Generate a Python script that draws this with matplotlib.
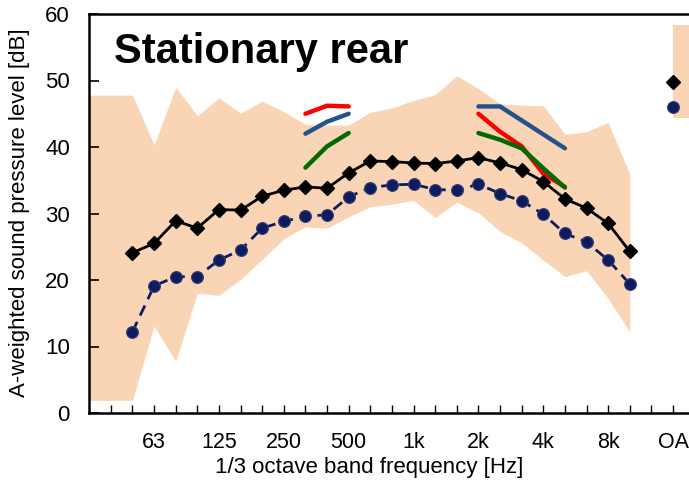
import numpy as np
import matplotlib
matplotlib.use("Agg")
import matplotlib.pyplot as plt

plt.rcParams['font.family'] = ['Liberation Sans', 'DejaVu Sans']

# 1/3 octave band positions (index 0 = 31.5 Hz ... 25 = 10 kHz, 27 = OA)
bands = ['31.5', '40', '50', '63', '80', '100', '125', '160', '200', '250',
         '315', '400', '500', '630', '800', '1k', '1.25k', '1.6k', '2k', '2.5k',
         '3.15k', '4k', '5k', '6.3k', '8k', '10k']
tick_labels = {3: '63', 6: '125', 9: '250', 12: '500', 15: '1k', 18: '2k',
               21: '4k', 24: '8k', 27: 'OA'}

# series (50 Hz .. 10 kHz)
black_vals = [24.1, 25.5, 28.9, 27.8, 30.6, 30.5, 32.6, 33.5, 34.0, 33.8, 36.1, 37.9,
              37.8, 37.6, 37.5, 37.9, 38.4, 37.6, 36.6, 34.8, 32.2, 30.8, 28.5, 24.3]
navy_vals = [12.2, 19.1, 20.5, 20.5, 23.0, 24.5, 27.8, 28.8, 29.6, 29.8, 32.5, 33.9,
             34.3, 34.4, 33.6, 33.5, 34.4, 33.0, 31.9, 29.9, 27.0, 25.7, 23.0, 19.4]

# range band (31.5 Hz .. 10 kHz)
band_upper = [47.8, 47.8, 47.8, 40.3, 49.0, 44.7, 47.4, 45.1, 46.9, 45.3, 43.4, 43.3,
              43.3, 45.2, 45.9, 47.0, 47.9, 50.7, 48.8, 46.5, 46.3, 46.2, 41.9, 42.3,
              43.7, 35.9]
band_lower = [1.9, 1.9, 1.9, 13.1, 7.8, 18.0, 17.7, 20.1, 23.1, 26.2, 28.0, 27.8,
              29.5, 31.0, 31.4, 32.0, 29.4, 31.7, 30.1, 27.3, 25.6, 23.0, 20.5, 21.4,
              17.2, 12.2]

# overall (OA)
oa_black = 49.8
oa_navy = 46.0
oa_band = (44.4, 58.3)

# reference curves: 315-500 Hz and 2k-5k Hz
ref_low_idx = [10, 11, 12]
ref_low_red = [45.0, 46.2, 46.1]
ref_low_blue = [42.0, 43.8, 45.0]
ref_low_green = [36.9, 40.1, 42.1]
ref_high_idx = [18, 19, 20, 21, 22]
ref_high_red = [45.0, 42.3, 40.1, 36.0, 34.0]
ref_high_blue = [46.1, 46.1, 44.0, 41.9, 39.8]
ref_high_green = [42.1, 41.1, 39.8, 36.8, 33.9]

band_color = '#FAD5B5'
navy = '#0B1D5E'

fig = plt.figure(figsize=(6.89, 4.84), dpi=100)
ax = fig.add_axes([89.2 / 689, 1 - 413 / 484, 1 - 89.2 / 689 + 0.001, (413 - 14) / 484])

x_band = np.arange(len(bands))
ax.fill_between(x_band, band_lower, band_upper, color=band_color, linewidth=0, zorder=1)
ax.fill_between([27, 28], [oa_band[0]] * 2, [oa_band[1]] * 2, color=band_color,
                linewidth=0, zorder=1)

for idx, vals, col in [(ref_low_idx, ref_low_red, '#FF0000'),
                       (ref_low_idx, ref_low_blue, '#24528A'),
                       (ref_low_idx, ref_low_green, '#006B00'),
                       (ref_high_idx, ref_high_red, '#FF0000'),
                       (ref_high_idx, ref_high_blue, '#24528A'),
                       (ref_high_idx, ref_high_green, '#006B00')]:
    ax.plot(idx, vals, color=col, lw=3.2, solid_capstyle='round', zorder=2)

x_data = np.arange(2, 2 + len(black_vals))
ax.plot(x_data, black_vals, color='black', lw=2.0, marker='D', ms=7.5,
        mfc='black', mec='black', zorder=4)
ax.plot(x_data, navy_vals, color=navy, lw=2.0, ls=(0, (4, 2.5)), marker='o', ms=8.5,
        mfc=navy, mec='#3A3A7A', mew=0.8, zorder=3)
ax.plot([27], [oa_black], marker='D', ms=7.5, color='black', zorder=4)
ax.plot([27], [oa_navy], marker='o', ms=8.5, mfc=navy, mec='#3A3A7A', mew=0.8, zorder=3)

ax.set_xlim(0, 27.77)
ax.set_ylim(0, 60)
ax.set_xticks(np.arange(1, 28))
ax.set_xticklabels([tick_labels.get(i, '') for i in range(1, 28)])
ax.set_yticks(np.arange(0, 61, 10))
ax.tick_params(axis='y', direction='in', length=7, width=1.2, labelsize=16, pad=14)
ax.tick_params(axis='x', direction='in', length=6, width=1.0, labelsize=15.5, pad=14)
for s in ['left', 'bottom', 'top']:
    ax.spines[s].set_linewidth(1.8)
ax.spines['right'].set_visible(False)

fig.text(369 / 689, 1 - 467 / 484, '1/3 octave band frequency [Hz]', fontsize=16,
         ha='center', va='center')
fig.text(20 / 689, 1 - 213 / 484, 'A-weighted sound pressure level [dB]', fontsize=16,
         rotation=90, ha='center', va='center')

fig.text(114 / 689, 1 - 63 / 484, 'Stationary rear', fontsize=30, fontweight='bold',
         ha='left', va='baseline')

fig.savefig('out.png', dpi=100)
